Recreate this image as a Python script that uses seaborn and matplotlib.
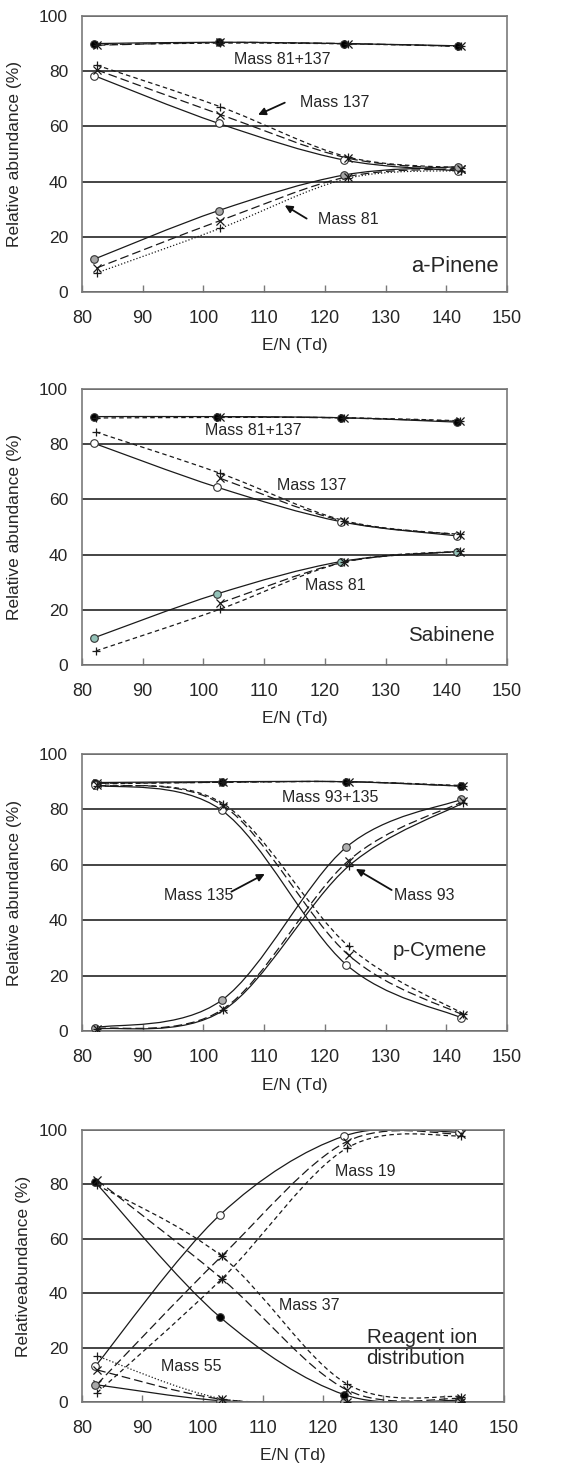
import numpy as np
import pandas as pd
import matplotlib
matplotlib.use("Agg")
import matplotlib.pyplot as plt
import seaborn as sns
from matplotlib.path import Path
from matplotlib.patches import PathPatch

nan = np.nan

# ---------------- data ----------------
# Panel 1: a-Pinene
P1_X_O = [82.0, 102.5, 123.2, 142.0]
P1_X_X = [82.4, 102.8, 123.8, 142.4]
P1_SUM_O = [90.0, 90.5, 90.0, 89.2]
P1_SUM_X = [89.4, 90.4, 90.0, 89.0]
P1_SUM_P = [89.6, 90.2, 89.9, 89.0]
P1_M137_O = [78.4, 61.1, 47.8, 43.9]
P1_M137_X = [80.5, 64.3, 48.5, 44.6]
P1_M137_P = [82.2, 67.1, 48.9, 45.0]
P1_M81_O = [11.9, 29.5, 42.4, 45.4]
P1_M81_X = [8.7, 25.9, 41.8, 44.6]
P1_M81_P = [6.9, 23.1, 41.2, 44.0]

# Panel 2: Sabinene
P2_X_O = [81.9, 102.3, 122.7, 141.7]
P2_X_X = [82.3, 102.7, 123.2, 142.2]
P2_SUM_O = [90.0, 90.0, 89.6, 88.0]
P2_SUM_X = [nan, 90.0, 89.5, 88.3]
P2_SUM_P = [89.5, 89.7, 89.6, 88.5]
P2_M137_O = [80.4, 64.4, 51.9, 46.8]
P2_M137_X = [nan, 67.7, 52.0, 47.2]
P2_M137_P = [84.4, 69.5, 52.3, 47.3]
P2_M81_O = [9.8, 25.8, 37.5, 41.1]
P2_M81_X = [nan, 22.4, 37.3, 41.1]
P2_M81_P = [5.1, 20.2, 37.3, 41.2]

# Panel 3: p-Cymene
P3_X_O = [82.2, 103.0, 123.5, 142.4]
P3_X_X = [82.5, 103.3, 123.9, 142.8]
P3_SUM_O = [89.7, 90.0, 90.0, 88.4]
P3_SUM_X = [89.4, 89.8, 90.0, 88.4]
P3_SUM_P = [89.2, 89.8, 90.0, 88.6]
P3_M135_O = [88.8, 79.7, 24.0, 4.8]
P3_M135_X = [88.8, 81.3, 27.4, 5.7]
P3_M135_P = [88.6, 82.0, 30.6, 6.2]
P3_M93_O = [1.2, 11.1, 66.3, 83.6]
P3_M93_X = [0.8, 8.0, 61.5, 82.9]
P3_M93_P = [0.7, 7.5, 59.5, 82.4]

# Panel 4: Reagent ion distribution
P4_X_O = [82.2, 102.9, 123.5, 142.6]
P4_X_X = [82.5, 103.2, 123.9, 142.9]
P4_M19_O = [13.1, 68.8, 97.8, 99.2]
P4_M19_X = [6.5, 53.7, 95.7, 98.5]
P4_M19_P = [3.4, 45.3, 93.3, 97.9]
P4_M37_O = [80.8, 31.2, 2.7, 0.6]
P4_M37_X = [81.6, 45.3, 4.5, 1.3]
P4_M37_P = [79.8, 53.5, 6.7, 2.0]
P4_M55_O = [6.4, 0.5, 0.0, 0.0]
P4_M55_X = [11.8, 1.0, 0.0, 0.1]
P4_M55_P = [16.9, 1.2, 0.1, 0.1]

X_TICKS = [80, 90, 100, 110, 120, 130, 140, 150]
Y_TICKS = [0, 20, 40, 60, 80, 100]

# ---------------- style ----------------
sns.set_style("white")
plt.rcParams["font.family"] = ["Liberation Sans", "DejaVu Sans"]

SOLID = "-"
LONG = (0, (7, 3.2))
SHORT = (0, (3.6, 2.6))
DOT = (0, (1.0, 1.6))
LINE_C = "#1a1a1a"
LW = 0.9


def smooth_path(xs, ys):
    """Excel-style smoothed line as a cubic Bezier path through the data."""
    pts = np.column_stack([np.asarray(xs, float), np.asarray(ys, float)])
    pts = pts[~np.isnan(pts).any(axis=1)]
    n = len(pts)
    verts = [pts[0]]
    codes = [Path.MOVETO]
    for i in range(n - 1):
        p0 = pts[i - 1] if i > 0 else pts[i]
        p1 = pts[i]
        p2 = pts[i + 1]
        p3 = pts[i + 2] if i + 2 < n else pts[i + 1]
        c1 = p1 + (p2 - p0) / 6.0
        c2 = p2 - (p3 - p1) / 6.0
        verts += [c1, c2, p2]
        codes += [Path.CURVE4] * 3
    return Path(verts, codes)


def draw(ax, xs, ys, ls, marker, face="white"):
    patch = PathPatch(smooth_path(xs, ys), fill=False, ec=LINE_C, lw=LW,
                      ls=ls, zorder=2.2, capstyle="butt")
    ax.add_patch(patch)
    df = pd.DataFrame({"x": xs, "y": ys}).dropna()
    if marker == "o":
        sns.scatterplot(data=df, x="x", y="y", marker="o", s=30, color=face,
                        edgecolor="#333333", linewidth=0.8, zorder=3, ax=ax,
                        legend=False)
    else:
        sns.scatterplot(data=df, x="x", y="y", marker=marker, s=34,
                        color="#1a1a1a", linewidth=0.9, zorder=3, ax=ax,
                        legend=False)


def setup(ax, ylabel="Relative abundance (%)", ylab_x=-0.14):
    ax.set_xlim(80, 150)
    ax.set_ylim(0, 100)
    ax.set_xticks(X_TICKS)
    ax.set_yticks(Y_TICKS)
    ax.yaxis.grid(True, color="#111111", lw=1.1, zorder=0.5)
    ax.xaxis.grid(False)
    for s in ax.spines.values():
        s.set_color("#7a7a7a")
        s.set_linewidth(1.2)
        s.set_visible(True)
    ax.tick_params(axis="x", direction="in", length=5, width=1.0,
                   color="#7a7a7a", labelsize=13, pad=13, top=False,
                   bottom=True)
    ax.tick_params(axis="y", length=0, labelsize=12.5, pad=10)
    ax.set_xlabel("E/N (Td)", fontsize=12.5)
    ax.set_ylabel(ylabel, fontsize=12.5)
    ax.xaxis.set_label_coords(0.5, -0.168)
    ax.yaxis.set_label_coords(ylab_x, 0.5)


def arrow(ax, tail, head):
    ax.annotate("", xy=head, xytext=tail,
                arrowprops=dict(arrowstyle="-|>", color="#111111", lw=1.3,
                                mutation_scale=11, shrinkA=0, shrinkB=0))


fig = plt.figure(figsize=(5.71, 14.64), dpi=100)
W = 1464.0
FW = 571.0


def add_ax(top_px, bot_px, left_px=82, right_px=507):
    return fig.add_axes([left_px / FW, 1 - bot_px / W,
                         (right_px - left_px) / FW, (bot_px - top_px) / W])


TXT = 11.5
BIG = 14.8

# ---- Panel 1: a-Pinene ----
ax1 = add_ax(16, 292)
setup(ax1)
draw(ax1, P1_X_O, P1_SUM_O, SOLID, "o", "black")
draw(ax1, P1_X_X, P1_SUM_X, LONG, "x")
draw(ax1, P1_X_X, P1_SUM_P, SHORT, "+")
draw(ax1, P1_X_O, P1_M137_O, SOLID, "o", "white")
draw(ax1, P1_X_X, P1_M137_X, LONG, "x")
draw(ax1, P1_X_X, P1_M137_P, SHORT, "+")
draw(ax1, P1_X_O, P1_M81_O, SOLID, "o", "#a6a6a6")
draw(ax1, P1_X_X, P1_M81_X, LONG, "x")
draw(ax1, P1_X_X, P1_M81_P, DOT, "+")
ax1.text(112.9, 84.4, "Mass 81+137", fontsize=TXT, ha="center", va="center")
ax1.text(121.7, 68.8, "Mass 137", fontsize=TXT, ha="center", va="center")
arrow(ax1, (113.4, 68.6), (109.0, 64.2))
ax1.text(123.8, 26.1, "Mass 81", fontsize=TXT, ha="center", va="center")
arrow(ax1, (117.0, 26.6), (113.4, 31.4))
ax1.text(141.4, 9.1, "a-Pinene", fontsize=15.8, ha="center", va="center")

# ---- Panel 2: Sabinene ----
ax2 = add_ax(389, 665)
setup(ax2)
draw(ax2, P2_X_O, P2_SUM_O, SOLID, "o", "black")
draw(ax2, P2_X_X, P2_SUM_X, LONG, "x")
draw(ax2, P2_X_X, P2_SUM_P, SHORT, "+")
draw(ax2, P2_X_O, P2_M137_O, SOLID, "o", "white")
draw(ax2, P2_X_X, P2_M137_X, LONG, "x")
draw(ax2, P2_X_X, P2_M137_P, SHORT, "+")
draw(ax2, P2_X_O, P2_M81_O, SOLID, "o", "#93c2b8")
draw(ax2, P2_X_X, P2_M81_X, LONG, "x")
draw(ax2, P2_X_X, P2_M81_P, SHORT, "+")
ax2.text(108.2, 85.1, "Mass 81+137", fontsize=TXT, ha="center", va="center")
ax2.text(117.8, 65.2, "Mass 137", fontsize=TXT, ha="center", va="center")
ax2.text(121.7, 28.7, "Mass 81", fontsize=TXT, ha="center", va="center")
ax2.text(140.9, 10.6, "Sabinene", fontsize=BIG, ha="center", va="center")

# ---- Panel 3: p-Cymene ----
ax3 = add_ax(754, 1031)
setup(ax3)
draw(ax3, P3_X_O, P3_SUM_O, SOLID, "o", "black")
draw(ax3, P3_X_X, P3_SUM_X, LONG, "x")
draw(ax3, P3_X_X, P3_SUM_P, SHORT, "+")
draw(ax3, P3_X_O, P3_M135_O, SOLID, "o", "white")
draw(ax3, P3_X_X, P3_M135_X, LONG, "x")
draw(ax3, P3_X_X, P3_M135_P, SHORT, "+")
draw(ax3, P3_X_O, P3_M93_O, SOLID, "o", "#b0b0b0")
draw(ax3, P3_X_X, P3_M93_X, LONG, "x")
draw(ax3, P3_X_X, P3_M93_P, SOLID, "+")
ax3.text(120.8, 84.2, "Mass 93+135", fontsize=TXT, ha="center", va="center")
ax3.text(99.2, 48.8, "Mass 135", fontsize=TXT, ha="center", va="center")
arrow(ax3, (104.6, 50.3), (110.1, 56.7))
ax3.text(136.3, 48.8, "Mass 93", fontsize=TXT, ha="center", va="center")
arrow(ax3, (131.0, 50.9), (125.1, 58.5))
ax3.text(139.0, 29.2, "p-Cymene", fontsize=BIG, ha="center", va="center")

# ---- Panel 4: Reagent ions ----
ax4 = add_ax(1130, 1402, right_px=504)
setup(ax4, ylabel="Relativeabundance (%)", ylab_x=-0.12)
draw(ax4, P4_X_O, P4_M19_O, SOLID, "o", "white")
draw(ax4, P4_X_X, P4_M19_X, LONG, "x")
draw(ax4, P4_X_X, P4_M19_P, SHORT, "+")
draw(ax4, P4_X_O, P4_M37_O, SOLID, "o", "black")
draw(ax4, P4_X_X, P4_M37_X, LONG, "x")
draw(ax4, P4_X_X, P4_M37_P, SHORT, "+")
draw(ax4, P4_X_O, P4_M55_O, SOLID, "o", "#a8a8a8")
draw(ax4, P4_X_X, P4_M55_X, LONG, "x")
draw(ax4, P4_X_X, P4_M55_P, DOT, "+")
ax4.text(127.0, 84.9, "Mass 19", fontsize=TXT, ha="center", va="center")
ax4.text(117.7, 35.4, "Mass 37", fontsize=TXT, ha="center", va="center")
ax4.text(98.2, 13.2, "Mass 55", fontsize=TXT, ha="center", va="center")
ax4.text(127.2, 19.9, "Reagent ion\ndistribution", fontsize=BIG,
         ha="left", va="center", linespacing=1.15)

fig.savefig("out.png", dpi=100)
